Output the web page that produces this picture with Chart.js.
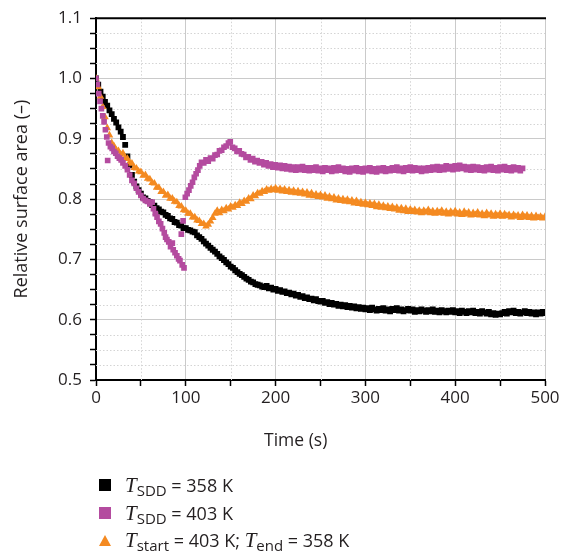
<!DOCTYPE html>
<html lang="en">
<head>
    <meta charset="UTF-8">
    <title>Relative surface area</title>
    <style>
        body {
            margin: 0;
            background: #fff;
            font-family: "Open Sans", Arial, sans-serif;
            color: #231f20;
        }
        .wrap {
            position: relative;
            width: 564px;
            height: 558px;
        }
        #chart {
            position: absolute;
            left: 0;
            top: 0;
        }
        .xtitle {
            position: absolute;
            left: 264px;
            top: 427px;
            font-size: 17.5px;
        }
        .legend {
            position: absolute;
            left: 99px;
            top: 472px;
        }
        .legend .row {
            position: relative;
            height: 27.5px;
            line-height: 27.5px;
            font-size: 18px;
            white-space: nowrap;
        }
        .legend .mark {
            position: absolute;
            left: 0;
            top: 7px;
            width: 12px;
            height: 12px;
        }
        .legend .tri {
            width: 0;
            height: 0;
            background: none;
            top: 8px;
            border-left: 6px solid transparent;
            border-right: 6px solid transparent;
            border-bottom: 11px solid #f48a21;
        }
        .legend .txt {
            position: absolute;
            left: 26px;
            top: 0;
        }
        .legend i {
            font-family: "Liberation Serif", "DejaVu Serif", serif;
            font-size: 21px;
        }
        .legend sub {
            font-size: 15px;
            vertical-align: -4px;
            line-height: 0;
        }
    </style>
</head>
<body>
<div class="wrap">
    <canvas id="chart" width="564" height="460"></canvas>
    <div class="xtitle">Time (s)</div>
    <div class="legend">
        <div class="row"><span class="mark" style="background:#000"></span><span class="txt"><i>T</i><sub>SDD</sub> = 358 K</span></div>
        <div class="row"><span class="mark" style="background:#b44b9f"></span><span class="txt"><i>T</i><sub>SDD</sub> = 403 K</span></div>
        <div class="row"><span class="mark tri"></span><span class="txt"><i>T</i><sub>start</sub> = 403 K; <i>T</i><sub>end</sub> = 358 K</span></div>
    </div>
</div>

<script src="https://cdn.jsdelivr.net/npm/chart.js"></script>
<script>
// sampling times (s), 2.5 s apart
const times = [
    0, 2.5, 5, 7.5, 10, 12.5, 15, 17.5, 20, 22.5,
    25, 27.5, 30, 32.5, 35, 37.5, 40, 42.5, 45, 47.5,
    50, 52.5, 55, 57.5, 60, 62.5, 65, 67.5, 70, 72.5,
    75, 77.5, 80, 82.5, 85, 87.5, 90, 92.5, 95, 97.5,
    100, 102.5, 105, 107.5, 110, 112.5, 115, 117.5, 120, 122.5,
    125, 127.5, 130, 132.5, 135, 137.5, 140, 142.5, 145, 147.5,
    150, 152.5, 155, 157.5, 160, 162.5, 165, 167.5, 170, 172.5,
    175, 177.5, 180, 182.5, 185, 187.5, 190, 192.5, 195, 197.5,
    200, 202.5, 205, 207.5, 210, 212.5, 215, 217.5, 220, 222.5,
    225, 227.5, 230, 232.5, 235, 237.5, 240, 242.5, 245, 247.5,
    250, 252.5, 255, 257.5, 260, 262.5, 265, 267.5, 270, 272.5,
    275, 277.5, 280, 282.5, 285, 287.5, 290, 292.5, 295, 297.5,
    300, 302.5, 305, 307.5, 310, 312.5, 315, 317.5, 320, 322.5,
    325, 327.5, 330, 332.5, 335, 337.5, 340, 342.5, 345, 347.5,
    350, 352.5, 355, 357.5, 360, 362.5, 365, 367.5, 370, 372.5,
    375, 377.5, 380, 382.5, 385, 387.5, 390, 392.5, 395, 397.5,
    400, 402.5, 405, 407.5, 410, 412.5, 415, 417.5, 420, 422.5,
    425, 427.5, 430, 432.5, 435, 437.5, 440, 442.5, 445, 447.5,
    450, 452.5, 455, 457.5, 460, 462.5, 465, 467.5, 470, 472.5,
    475, 477.5, 480, 482.5, 485, 487.5, 490, 492.5, 495, 497.5,
    500];

// T_SDD = 358 K
const black358 = [
    1.000, 0.990, 0.978, 0.970, 0.961, 0.955, 0.947, 0.941, 0.933, 0.927,
    0.919, 0.912, 0.903, 0.890, 0.871, 0.856, 0.840, 0.829, 0.821, 0.815,
    0.809, 0.803, 0.801, 0.797, 0.795, 0.790, 0.789, 0.785, 0.783, 0.779,
    0.778, 0.774, 0.772, 0.768, 0.767, 0.762, 0.761, 0.757, 0.756, 0.752,
    0.752, 0.749, 0.748, 0.746, 0.745, 0.740, 0.737, 0.734, 0.730, 0.726,
    0.723, 0.719, 0.716, 0.713, 0.709, 0.705, 0.702, 0.699, 0.695, 0.692,
    0.688, 0.686, 0.682, 0.679, 0.676, 0.674, 0.671, 0.668, 0.666, 0.663,
    0.662, 0.659, 0.658, 0.657, 0.655, 0.654, 0.656, 0.652, 0.653, 0.650,
    0.651, 0.648, 0.649, 0.646, 0.647, 0.644, 0.645, 0.642, 0.643, 0.640,
    0.641, 0.638, 0.639, 0.636, 0.637, 0.634, 0.635, 0.632, 0.634, 0.631,
    0.630, 0.631, 0.628, 0.629, 0.626, 0.628, 0.625, 0.626, 0.623, 0.625,
    0.622, 0.624, 0.621, 0.623, 0.620, 0.622, 0.619, 0.621, 0.618, 0.620,
    0.617, 0.619, 0.616, 0.620, 0.617, 0.615, 0.618, 0.616, 0.619, 0.615,
    0.617, 0.614, 0.618, 0.616, 0.619, 0.615, 0.617, 0.614, 0.616, 0.618,
    0.615, 0.617, 0.613, 0.616, 0.614, 0.617, 0.615, 0.613, 0.616, 0.614,
    0.617, 0.613, 0.615, 0.612, 0.616, 0.614, 0.612, 0.615, 0.613, 0.616,
    0.612, 0.614, 0.611, 0.615, 0.613, 0.611, 0.614, 0.612, 0.615, 0.611,
    0.613, 0.610, 0.614, 0.612, 0.610, 0.613, 0.609, 0.611, 0.608, 0.610,
    0.609, 0.611, 0.613, 0.610, 0.614, 0.612, 0.615, 0.611, 0.613, 0.610,
    0.612, 0.614, 0.611, 0.613, 0.610, 0.612, 0.609, 0.612, 0.610, 0.613,
    0.611];

// T_start = 403 K; T_end = 358 K
const orangeStep = [
    1.000, 0.986, 0.970, 0.953, 0.936, 0.918, 0.906, 0.893, 0.888, 0.881,
    0.880, 0.874, 0.876, 0.868, 0.867, 0.861, 0.859, 0.852, 0.851, 0.846,
    0.845, 0.839, 0.840, 0.834, 0.833, 0.827, 0.826, 0.819, 0.819, 0.812,
    0.812, 0.806, 0.807, 0.801, 0.801, 0.796, 0.795, 0.789, 0.788, 0.782,
    0.781, 0.776, 0.776, 0.770, 0.770, 0.765, 0.764, 0.759, 0.759, 0.755,
    0.758, 0.763, 0.769, 0.776, 0.781, 0.777, 0.782, 0.780, 0.785, 0.783,
    0.788, 0.786, 0.790, 0.789, 0.794, 0.792, 0.797, 0.796, 0.801, 0.800,
    0.806, 0.805, 0.810, 0.809, 0.813, 0.812, 0.816, 0.814, 0.817, 0.815,
    0.818, 0.814, 0.817, 0.813, 0.816, 0.812, 0.815, 0.811, 0.814, 0.810,
    0.813, 0.809, 0.812, 0.808, 0.811, 0.806, 0.810, 0.805, 0.808, 0.804,
    0.807, 0.803, 0.806, 0.801, 0.804, 0.800, 0.803, 0.798, 0.801, 0.797,
    0.800, 0.796, 0.799, 0.795, 0.798, 0.793, 0.797, 0.792, 0.795, 0.791,
    0.794, 0.790, 0.793, 0.789, 0.792, 0.787, 0.791, 0.786, 0.789, 0.785,
    0.788, 0.784, 0.787, 0.783, 0.786, 0.781, 0.785, 0.780, 0.784, 0.779,
    0.783, 0.779, 0.782, 0.778, 0.781, 0.777, 0.781, 0.778, 0.782, 0.777,
    0.780, 0.776, 0.780, 0.777, 0.781, 0.776, 0.779, 0.775, 0.779, 0.776,
    0.780, 0.775, 0.778, 0.774, 0.779, 0.775, 0.778, 0.773, 0.777, 0.774,
    0.778, 0.773, 0.776, 0.772, 0.777, 0.773, 0.776, 0.771, 0.775, 0.772,
    0.776, 0.771, 0.775, 0.772, 0.774, 0.770, 0.774, 0.771, 0.773, 0.769,
    0.774, 0.770, 0.773, 0.769, 0.772, 0.768, 0.772, 0.769, 0.771, 0.768,
    0.771];

// T_SDD = 403 K, first 200 s (uneven time stamps, scattered near 100 s)
const magentaEarlyTimes = [
    0, 1.5, 3, 4.5, 6, 7.5, 9, 10.5, 12, 13,
    14, 16, 18, 20, 22, 24, 26, 28, 30, 32.5,
    35, 37.5, 40, 42.5, 45, 47.5, 50, 52.5, 55, 57.5,
    60, 62.5, 64, 66, 68, 70, 72, 74, 76, 77.5,
    79, 81, 83, 85, 86, 88, 90, 92, 93.5, 95,
    96, 97, 98, 99.5, 101.5, 103.5, 105.5, 107.5, 109.5, 111.5,
    113.5, 115.5, 117.5, 120, 122.5, 125, 127.5, 130, 132.5, 135,
    137.5, 140, 142.5, 145, 147.5, 149.5, 152, 154.5, 157, 159.5,
    162, 164.5, 167, 169.5, 172, 174.5, 177, 179.5, 182, 184.5,
    187, 189.5, 192, 194.5, 197, 199.5];
const magentaEarly = [
    1.000, 0.990, 0.975, 0.962, 0.950, 0.938, 0.928, 0.915, 0.903, 0.864,
    0.893, 0.887, 0.884, 0.879, 0.876, 0.871, 0.868, 0.865, 0.860, 0.855,
    0.849, 0.840, 0.831, 0.826, 0.818, 0.812, 0.806, 0.801, 0.798, 0.796,
    0.792, 0.795, 0.784, 0.776, 0.770, 0.763, 0.759, 0.751, 0.744, 0.737,
    0.733, 0.729, 0.721, 0.727, 0.716, 0.711, 0.706, 0.701, 0.698, 0.742,
    0.691, 0.764, 0.686, 0.803, 0.809, 0.815, 0.822, 0.828, 0.836, 0.842,
    0.848, 0.855, 0.861, 0.860, 0.865, 0.863, 0.868, 0.867, 0.873, 0.874,
    0.880, 0.881, 0.886, 0.888, 0.893, 0.895, 0.886, 0.884, 0.879, 0.880,
    0.875, 0.874, 0.869, 0.870, 0.865, 0.867, 0.862, 0.864, 0.860, 0.862,
    0.857, 0.860, 0.855, 0.858, 0.853, 0.857];

// T_SDD = 403 K, 202.5 s to 475 s (same 2.5 s stamps as `times`)
const magentaLate = [
    0.852, 0.856, 0.851, 0.855, 0.850, 0.854, 0.849, 0.853, 0.848, 0.853,
    0.849, 0.854, 0.848, 0.852, 0.847, 0.852, 0.848, 0.853, 0.847, 0.851,
    0.846, 0.852, 0.848, 0.851, 0.846, 0.852, 0.847, 0.853, 0.848, 0.851,
    0.846, 0.850, 0.845, 0.851, 0.847, 0.852, 0.846, 0.850, 0.845, 0.851,
    0.847, 0.852, 0.846, 0.850, 0.845, 0.851, 0.847, 0.852, 0.846, 0.850,
    0.847, 0.852, 0.848, 0.853, 0.847, 0.851, 0.846, 0.852, 0.848, 0.853,
    0.847, 0.852, 0.848, 0.851, 0.846, 0.851, 0.847, 0.852, 0.848, 0.853,
    0.849, 0.854, 0.848, 0.853, 0.849, 0.855, 0.850, 0.854, 0.849, 0.855,
    0.850, 0.856, 0.851, 0.854, 0.849, 0.853, 0.848, 0.854, 0.849, 0.853,
    0.848, 0.852, 0.847, 0.853, 0.849, 0.854, 0.848, 0.852, 0.847, 0.853,
    0.849, 0.854, 0.848, 0.852, 0.847, 0.853, 0.849, 0.852, 0.847, 0.851];

const toPoints = (xs, ys) => ys.map((y, i) => ({ x: xs[i], y: y }));
const lateStart = times.indexOf(202.5);
const magentaPoints = toPoints(magentaEarlyTimes, magentaEarly)
    .concat(toPoints(times.slice(lateStart, lateStart + magentaLate.length), magentaLate));

const isMajorY = v => Math.abs(v * 10 - Math.round(v * 10)) < 1e-6;
const isMajorX = v => Math.abs(v % 100) < 1e-6;

// dotted minor grid on the minor ticks, black frame line on top
const minorGrid = {
    id: 'minorGrid',
    beforeDatasetsDraw(chart) {
        const { ctx, chartArea: a, scales } = chart;
        ctx.save();
        ctx.strokeStyle = '#d4d4d4';
        ctx.lineWidth = 1;
        ctx.setLineDash([1.5, 2]);
        scales.x.ticks.forEach(t => {
            if (isMajorX(t.value)) return;
            const px = Math.round(scales.x.getPixelForValue(t.value)) + 0.5;
            ctx.beginPath(); ctx.moveTo(px, a.top); ctx.lineTo(px, a.bottom); ctx.stroke();
        });
        scales.y.ticks.forEach(t => {
            if (isMajorY(t.value)) return;
            const py = Math.round(scales.y.getPixelForValue(t.value)) + 0.5;
            ctx.beginPath(); ctx.moveTo(a.left, py); ctx.lineTo(a.right, py); ctx.stroke();
        });
        ctx.restore();
    },
    afterDraw(chart) {
        const { ctx, chartArea: a } = chart;
        ctx.save();
        ctx.strokeStyle = '#000';
        ctx.lineWidth = 2;
        ctx.beginPath(); ctx.moveTo(a.left - 1, a.top); ctx.lineTo(a.right + 1, a.top); ctx.stroke();
        ctx.restore();
    }
};

const tickFont = { family: '"Open Sans", Arial, sans-serif', size: 17 };

new Chart(document.getElementById('chart'), {
    type: 'scatter',
    data: {
        datasets: [{
            label: 'T_SDD = 403 K',
            data: magentaPoints,
            pointStyle: 'rect',
            pointRadius: 4,
            backgroundColor: '#b44b9f',
            borderWidth: 0
        }, {
            label: 'T_start = 403 K; T_end = 358 K',
            data: toPoints(times, orangeStep),
            pointStyle: 'triangle',
            pointRadius: 4.4,
            backgroundColor: '#f48a21',
            borderWidth: 0
        }, {
            label: 'T_SDD = 358 K',
            data: toPoints(times, black358),
            pointStyle: 'rect',
            pointRadius: 4.1,
            backgroundColor: '#000',
            borderWidth: 0
        }]
    },
    options: {
        responsive: false,
        animation: false,
        events: [],
        layout: { padding: { left: 0, top: 17, right: 19, bottom: 0 } },
        plugins: {
            legend: { display: false },
            tooltip: { enabled: false }
        },
        scales: {
            x: {
                type: 'linear',
                min: 0,
                max: 500,
                afterFit(scale) { scale.height = 80; },
                ticks: {
                    stepSize: 50,
                    autoSkip: false,
                    maxRotation: 0,
                    padding: 2,
                    color: '#231f20',
                    font: tickFont,
                    callback: v => isMajorX(v) ? String(v) : ''
                },
                grid: {
                    color: c => (c.tick && isMajorX(c.tick.value)) ? '#cacaca' : 'rgba(0,0,0,0)',
                    tickColor: '#000',
                    tickLength: 6,
                    tickWidth: 1.5
                },
                border: { color: '#000', width: 2 }
            },
            y: {
                type: 'linear',
                min: 0.5,
                max: 1.1,
                afterFit(scale) { scale.width = 96; },
                title: {
                    display: true,
                    text: 'Relative surface area (–)',
                    color: '#231f20',
                    font: { family: '"Open Sans", Arial, sans-serif', size: 18 },
                    padding: { top: 11, bottom: 0 }
                },
                ticks: {
                    stepSize: 0.025,
                    autoSkip: false,
                    padding: 8,
                    color: '#231f20',
                    font: tickFont,
                    callback: v => isMajorY(v) ? v.toFixed(1) : ''
                },
                grid: {
                    color: c => (c.tick && isMajorY(c.tick.value)) ? '#cacaca' : 'rgba(0,0,0,0)',
                    tickColor: '#000',
                    tickLength: 6,
                    tickWidth: 1.5
                },
                border: { color: '#000', width: 2 }
            }
        }
    },
    plugins: [minorGrid]
});
</script>
</body>
</html>
